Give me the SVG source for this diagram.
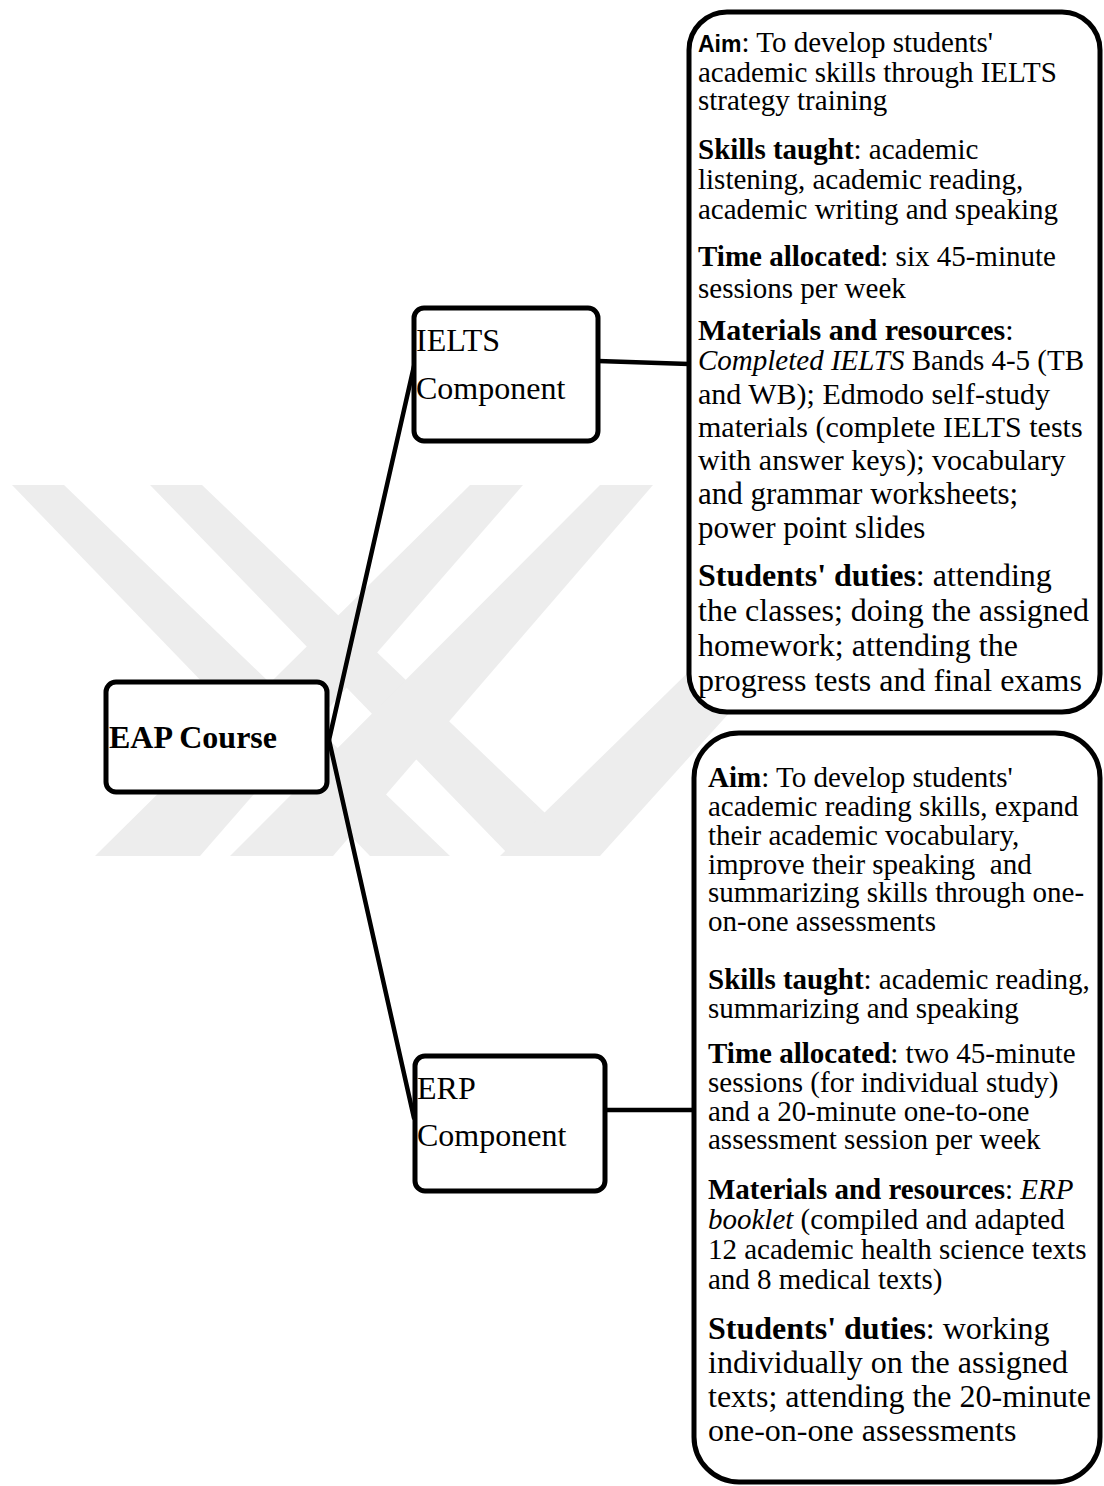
<svg xmlns="http://www.w3.org/2000/svg" width="1104" height="1486" viewBox="0 0 1104 1486">
  <style>
    .box { fill: #ffffff; stroke: #000000; stroke-width: 5; }
    .link { fill: none; stroke: #000000; stroke-width: 4.5; stroke-linecap: round; }
    .wm { fill: #ededed; }
    text { font-family: "Liberation Serif", "Times New Roman", serif; fill: #000000; }
    .b { font-weight: bold; }
    .i { font-style: italic; }
    .sans { font-family: "Liberation Sans", Arial, sans-serif; font-weight: bold; }
  </style>

  <rect width="1104" height="1486" fill="#ffffff"/>

  <!-- faint background mark -->
  <g id="watermark">
    <polygon class="wm" points="12,485 64,485 450,856 370,856"/>
    <polygon class="wm" points="150,485 202,485 590,856 510,856"/>
    <polygon class="wm" points="470,485 523,485 200,856 95,856"/>
    <polygon class="wm" points="600,485 653,485 333,856 230,856"/>
    <polygon class="wm" points="880,485 935,485 600,856 500,856"/>
  </g>

  <!-- connectors -->
  <g id="connectors">
    <line class="link" x1="329" y1="740" x2="414" y2="366"/>
    <line class="link" x1="329" y1="740" x2="414" y2="1118"/>
    <line class="link" x1="598" y1="361" x2="689" y2="364"/>
    <line class="link" x1="605" y1="1110" x2="694" y2="1110"/>
  </g>

  <!-- root node -->
  <g id="eap-course">
    <rect class="box" x="106" y="682" width="221" height="110" rx="10"/>
    <text class="b" x="109" y="748" font-size="32">EAP Course</text>
  </g>

  <!-- IELTS component -->
  <g id="ielts-component">
    <rect class="box" x="414" y="308" width="184" height="133" rx="10"/>
    <text x="416" y="351" font-size="32">IELTS</text>
    <text x="416" y="399" font-size="32">Component</text>
  </g>

  <!-- ERP component -->
  <g id="erp-component">
    <rect class="box" x="415" y="1056" width="190" height="135" rx="10"/>
    <text x="417" y="1099" font-size="32">ERP</text>
    <text x="417" y="1146" font-size="32">Component</text>
  </g>

  <!-- IELTS details -->
  <g id="ielts-details">
    <rect class="box" x="689" y="12" width="411" height="700" rx="38"/>
    <text x="698" y="52" font-size="29"><tspan class="sans" font-size="23">Aim</tspan>: To develop students'</text>
    <text x="698" y="82" font-size="29">academic skills through IELTS</text>
    <text x="698" y="110" font-size="29">strategy training</text>
    <text x="698" y="159" font-size="29"><tspan class="b">Skills taught</tspan>: academic</text>
    <text x="698" y="189" font-size="29">listening, academic reading,</text>
    <text x="698" y="219" font-size="29">academic writing and speaking</text>
    <text x="698" y="266" font-size="29"><tspan class="b">Time allocated</tspan>: six 45-minute</text>
    <text x="698" y="298" font-size="29">sessions per week</text>
    <text x="698" y="340" font-size="30"><tspan class="b">Materials and resources</tspan>:</text>
    <text x="698" y="370" font-size="29"><tspan class="i">Completed IELTS</tspan> Bands 4-5 (TB</text>
    <text x="698" y="404" font-size="30">and WB); Edmodo self-study</text>
    <text x="698" y="437" font-size="30">materials (complete IELTS tests</text>
    <text x="698" y="470" font-size="30">with answer keys); vocabulary</text>
    <text x="698" y="504" font-size="31">and grammar worksheets;</text>
    <text x="698" y="538" font-size="31">power point slides</text>
    <text x="698" y="586" font-size="32"><tspan class="b">Students' duties</tspan>: attending</text>
    <text x="698" y="621" font-size="32">the classes; doing the assigned</text>
    <text x="698" y="656" font-size="32">homework; attending the</text>
    <text x="698" y="691" font-size="32">progress tests and final exams</text>
  </g>

  <!-- ERP details -->
  <g id="erp-details">
    <rect class="box" x="694" y="733" width="406" height="749" rx="45"/>
    <text x="708" y="787" font-size="29"><tspan class="b">Aim</tspan>: To develop students'</text>
    <text x="708" y="816" font-size="29">academic reading skills, expand</text>
    <text x="708" y="845" font-size="29">their academic vocabulary,</text>
    <text x="708" y="874" font-size="29" xml:space="preserve">improve their speaking  and</text>
    <text x="708" y="902" font-size="29">summarizing skills through one-</text>
    <text x="708" y="931" font-size="29">on-one assessments</text>
    <text x="708" y="989" font-size="29"><tspan class="b">Skills taught</tspan>: academic reading,</text>
    <text x="708" y="1018" font-size="29">summarizing and speaking</text>
    <text x="708" y="1063" font-size="29"><tspan class="b">Time allocated</tspan>: two 45-minute</text>
    <text x="708" y="1092" font-size="29">sessions (for individual study)</text>
    <text x="708" y="1121" font-size="29">and a 20-minute one-to-one</text>
    <text x="708" y="1149" font-size="29">assessment session per week</text>
    <text x="708" y="1199" font-size="29"><tspan class="b">Materials and resources</tspan>: <tspan class="i">ERP</tspan></text>
    <text x="708" y="1229" font-size="29"><tspan class="i">booklet</tspan> (compiled and adapted</text>
    <text x="708" y="1259" font-size="29">12 academic health science texts</text>
    <text x="708" y="1289" font-size="29">and 8 medical texts)</text>
    <text x="708" y="1339" font-size="32"><tspan class="b">Students' duties</tspan>: working</text>
    <text x="708" y="1373" font-size="32">individually on the assigned</text>
    <text x="708" y="1407" font-size="32">texts; attending the 20-minute</text>
    <text x="708" y="1441" font-size="32">one-on-one assessments</text>
  </g>
</svg>
